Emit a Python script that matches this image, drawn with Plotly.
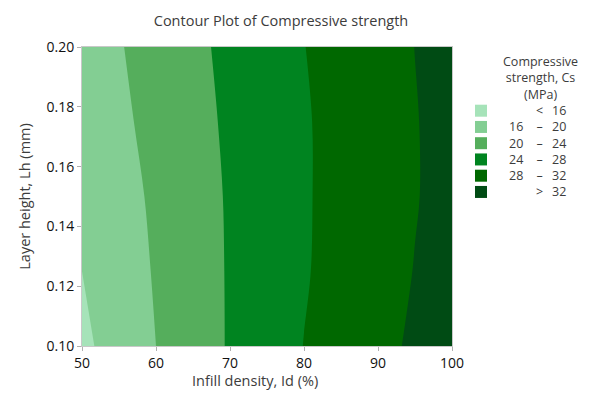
import plotly.graph_objects as go

# Data
infill_density = [50, 55, 60, 65, 70, 75, 80, 85, 90, 95, 100]
layer_height = [0.10, 0.125, 0.15, 0.175, 0.20]
cs_row_010 = [15.2, 17.6, 20.0, 22.2, 24.3, 26.2, 28.06, 29.6, 31.1, 32.5, 33.8]
cs_row_0125 = [16.0, 18.2, 20.3, 22.35, 24.3, 26.0, 27.73, 29.2, 30.7, 32.1, 33.4]
cs_row_015 = [16.6, 18.6, 20.64, 22.5, 24.36, 26.0, 27.67, 29.1, 30.5, 31.84, 33.1]
cs_row_0175 = [17.3, 19.28, 21.07, 22.86, 24.56, 26.1, 27.69, 29.1, 30.5, 31.86, 33.1]
cs_row_020 = [17.95, 19.76, 21.48, 23.2, 24.84, 26.4, 27.94, 29.3, 30.67, 32.03, 33.3]
strength = [cs_row_010, cs_row_0125, cs_row_015, cs_row_0175, cs_row_020]

band_low = ["", "16", "20", "24", "28", ""]
band_sym = ["<", "–", "–", "–", "–", ">"]
band_high = ["16", "20", "24", "28", "32", "32"]
band_colors = ["#a6e3b9", "#83ce93", "#55ae5c", "#008420", "#006800", "#004b14"]

xticks = [50, 60, 70, 80, 90, 100]
yticks = [0.10, 0.12, 0.14, 0.16, 0.18, 0.20]

FONT = "Open Sans"
TXT = "#3c3c3c"

# stepped colorscale: band midpoints at 0,0.2,...,1
cscale = []
n = len(band_colors)
for i, c in enumerate(band_colors):
    lo = max(0.0, (i - 0.5) / (n - 1))
    hi = min(1.0, (i + 0.5) / (n - 1))
    cscale.append([lo, c])
    cscale.append([hi, c])

fig = go.Figure()
fig.add_trace(go.Contour(
    x=infill_density, y=layer_height, z=strength,
    contours=dict(start=16, end=32, size=4, coloring="fill"),
    colorscale=cscale, showscale=False,
    line=dict(width=0, smoothing=1),
    hoverinfo="skip",
))

L, R, T, B = 82, 452, 47, 346
plot_w = R - L
plot_h = B - T
def px_x(px):
    return (px - L) / plot_w
def px_y(py):
    return (B - py) / plot_h

LEG_FS = 12.5
row_step = 1.3 * LEG_FS
first_row = 110.7
n_rows = len(band_colors)
col_mid = first_row + row_step * (n_rows - 1) / 2

shapes = []
annotations = []
# legend title
annotations.append(dict(xref="paper", yref="paper", x=px_x(540), y=px_y(78),
                        text="Compressive<br>strength, Cs<br>(MPa)", showarrow=False,
                        xanchor="center", yanchor="middle", align="center", borderpad=0,
                        font=dict(family=FONT, size=LEG_FS, color=TXT)))
# x-axis title (slightly left of plot centre as in the reference)
annotations.append(dict(xref="paper", yref="paper", x=px_x(255), y=px_y(380),
                        text="Infill density, Id (%)", showarrow=False,
                        xanchor="center", yanchor="middle", borderpad=0,
                        font=dict(family=FONT, size=14.5, color=TXT)))

for i, col in enumerate(band_colors):
    yc = first_row + i * row_step
    shapes.append(dict(type="rect", xref="paper", yref="paper",
                       x0=px_x(475), x1=px_x(487),
                       y0=px_y(yc + 6), y1=px_y(yc - 6),
                       fillcolor=col, line=dict(width=0)))

def column(texts, x, anchor):
    txt = "<br>".join(t if t else "\u00a0" for t in texts)
    annotations.append(dict(xref="paper", yref="paper", x=px_x(x), y=px_y(col_mid),
                            text=txt, showarrow=False, xanchor=anchor, yanchor="middle",
                            align=anchor, borderpad=0,
                            font=dict(family=FONT, size=LEG_FS, color=TXT)))

column(band_low, 524, "right")
column(band_sym, 539, "center")
column(band_high, 567, "right")

fig.update_layout(
    width=604, height=394,
    margin=dict(l=L, r=604 - R, t=T, b=394 - B, autoexpand=False),
    paper_bgcolor="white", plot_bgcolor="white",
    title=dict(text="Contour Plot of Compressive strength", x=281 / 604, xanchor="center",
               y=1 - 21 / 394, yanchor="middle",
               font=dict(family=FONT, size=14.5, color=TXT)),
    font=dict(family=FONT, color="#000000"),
    showlegend=False,
    shapes=shapes,
    annotations=annotations,
    xaxis=dict(range=[50, 100], tickvals=xticks, ticktext=[str(v) for v in xticks],
               ticks="outside", ticklen=4, tickcolor="#b0b0b0", automargin=False,
               showline=True, linecolor="#c8c8c8", mirror=True, showgrid=False, zeroline=False,
               tickfont=dict(family=FONT, size=14, color="#111111")),
    yaxis=dict(range=[0.10, 0.20], tickvals=yticks, ticktext=[f"{v:.2f}" for v in yticks],
               ticks="outside", ticklen=4, tickcolor="#b0b0b0", automargin=False,
               showline=True, linecolor="#c8c8c8", mirror=True, showgrid=False, zeroline=False,
               tickfont=dict(family=FONT, size=14, color="#111111"),
               title=dict(text="Layer height, Lh (mm)", standoff=12,
                          font=dict(family=FONT, size=14.5, color=TXT))),
)

fig.write_html("out.html", config={"displayModeBar": False},
               post_script="document.body.style.margin='0';")
